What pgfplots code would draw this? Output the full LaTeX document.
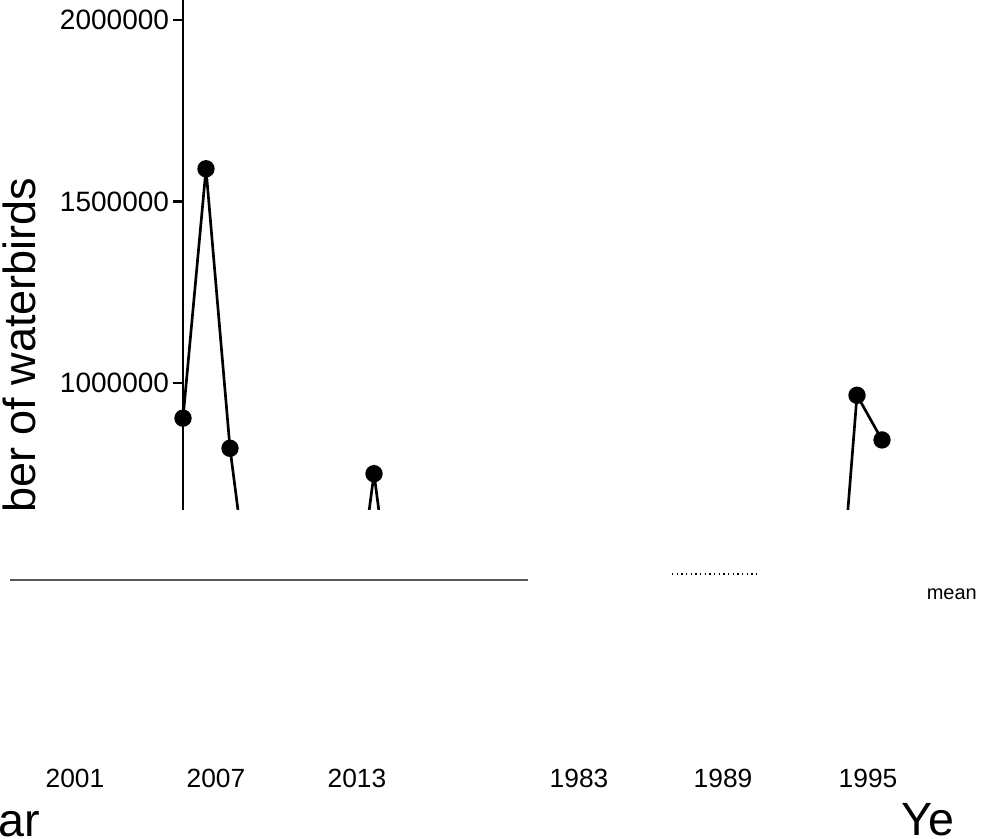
\documentclass[border=0pt]{standalone}
\usepackage{pgfplots}
\pgfplotsset{compat=1.18}
\usepackage{fontspec}
\setmainfont{Liberation Sans}
\begin{document}
\begin{tikzpicture}[x=0.3pt,y=-0.3pt]
\clip (0,0) rectangle (992,839);
\path[fill=white] (0,0) rectangle (992,839);
\begin{axis}[at={(183,0)},anchor=north west,scale only axis,
  width=242.7pt,height=153pt,
  xmin=183,xmax=992,ymin=650000,ymax=2055000,
  axis x line=none,axis y line=left,axis line style={-,line width=0.8pt},
  ytick={1000000,1500000,2000000},scaled y ticks=false,
  yticklabel style={/pgf/number format/fixed,/pgf/number format/1000 sep={},font=\fontsize{8.4}{10}\selectfont,inner sep=1pt},
  /pgf/number format/assume math mode=true,
  tick style={black,line width=0.8pt},major tick length=3pt,tick align=outside,
  ylabel={Number of waterbirds},ylabel style={font=\fontsize{13.5}{15}\selectfont,at={(axis description cs:-0.167,0.23)}},
  clip=true]
\addplot[black,line width=0.8pt,mark=*,mark size=2.2pt] coordinates {(183,903000)(206,1590000)(230,820000)(245,500000)};
\addplot[black,line width=0.8pt,mark=*,mark size=2.2pt] coordinates {(362,500000)(374,750000)(386,500000)};
\addplot[black,line width=0.8pt,mark=*,mark size=2.2pt] coordinates {(845,550000)(857,966000)(882,843000)};
\end{axis}
\fill[white] (0,510) rectangle (180,839);
\draw[gray!70!black,line width=0.6pt] (10,580) -- (528,580);
\draw[black,densely dotted,line width=0.4pt] (672,574) -- (757,574);
\node[font=\fontsize{6}{7}\selectfont,anchor=west] at (915,594) {mean};
\foreach \x/\t in {75/2001,216/2007,357/2013,579/1983,723/1989,868/1995}
  \node[font=\fontsize{7.9}{10}\selectfont] at (\x,778) {\t};
\node[font=\fontsize{14}{15}\selectfont,anchor=east] at (52,824) {ear};
\node[font=\fontsize{14}{15}\selectfont,anchor=west] at (890,820) {Ye};
\fill[white] (957,795) rectangle (992,839);
\end{tikzpicture}
\end{document}
